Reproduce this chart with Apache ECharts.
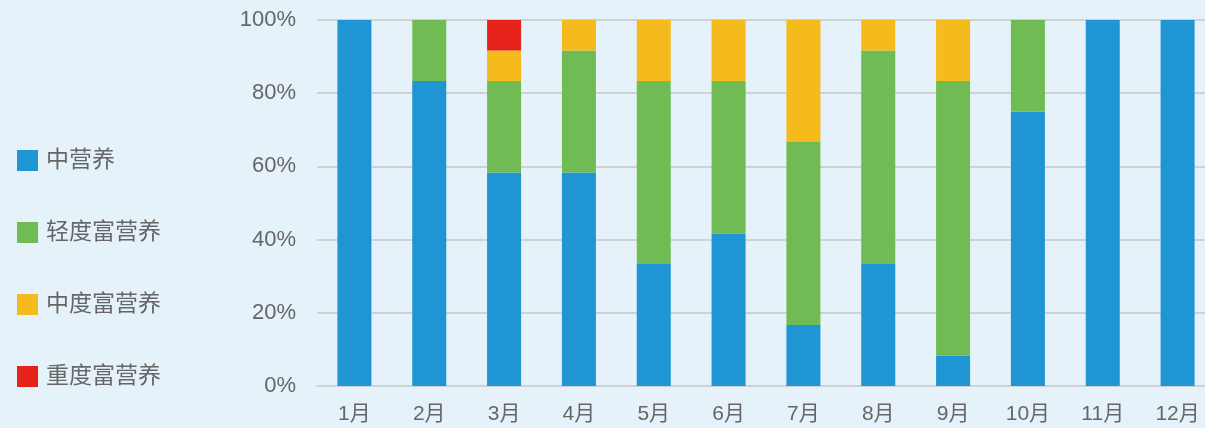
<!DOCTYPE html>
<html>
<head>
<meta charset="utf-8">
<script src="https://cdn.jsdelivr.net/npm/echarts@6/dist/echarts.min.js"></script>
<style>
  html, body { margin: 0; padding: 0; background: #e5f2f9; }
  #chart { width: 1205px; height: 428px; }
</style>
</head>
<body>
<div id="chart"></div>
<script>
// 每月各营养状态站点数（共12个点位）
const months = ["1月", "2月", "3月", "4月", "5月", "6月", "7月", "8月", "9月", "10月", "11月", "12月"];
const mesotrophic = [12, 10, 7, 7, 4, 5, 2, 4, 1, 9, 12, 12];
const lightEutrophic = [0, 2, 3, 4, 6, 5, 6, 7, 9, 3, 0, 0];
const middleEutrophic = [0, 0, 1, 1, 2, 2, 4, 1, 2, 0, 0, 0];
const heavyEutrophic = [0, 0, 1, 0, 0, 0, 0, 0, 0, 0, 0, 0];

const seriesNames = ["中营养", "轻度富营养", "中度富营养", "重度富营养"];
const seriesColors = ["#1f95d3", "#71bb55", "#f5bb1c", "#e6231b"];
const rawSeries = [mesotrophic, lightEutrophic, middleEutrophic, heavyEutrophic];

const totals = months.map((_, i) => rawSeries.reduce((s, arr) => s + arr[i], 0));
const toPercent = (arr) => arr.map((v, i) => (totals[i] ? (v / totals[i]) * 100 : 0));

const chart = echarts.init(document.getElementById("chart"));
const textColor = "#666";
const gridColor = "#cfd2d4";
const fontFamily = "Liberation Sans, Noto Sans CJK SC";

chart.setOption({
    backgroundColor: "#e5f2f9",
    animation: false,
    color: seriesColors,
    legend: {
        orient: "vertical",
        left: 12,
        top: 144,
        itemWidth: 21,
        itemHeight: 21,
        itemGap: 49,
        icon: "rect",
        textStyle: { color: textColor, fontSize: 23, lineHeight: 21, fontFamily: fontFamily, padding: [0, 0, 0, 3] },
        data: seriesNames,
    },
    grid: {
        left: 317,
        width: 898,
        top: 20,
        bottom: 42,
        containLabel: false,
        outerBoundsMode: "none",
    },
    xAxis: {
        type: "category",
        data: months,
        axisLine: { lineStyle: { color: gridColor, width: 2 } },
        axisTick: { show: false },
        axisLabel: { color: textColor, fontSize: 21, margin: 18, fontFamily: fontFamily },
    },
    yAxis: {
        type: "value",
        min: 0,
        max: 100,
        interval: 20,
        axisLine: { show: false },
        axisTick: { show: false },
        axisLabel: {
            color: textColor,
            fontSize: 22,
            margin: 21,
            formatter: "{value}%",
            fontFamily: fontFamily,
        },
        splitLine: { lineStyle: { color: gridColor, width: 2 } },
    },
    series: rawSeries.map((arr, idx) => ({
        name: seriesNames[idx],
        type: "bar",
        stack: "total",
        barWidth: 34,
        data: toPercent(arr),
        itemStyle: { color: seriesColors[idx] },
    })),
});
</script>
</body>
</html>
